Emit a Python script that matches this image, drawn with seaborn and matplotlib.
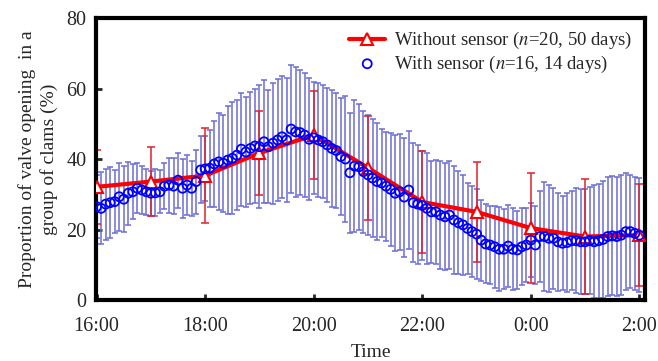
import matplotlib
matplotlib.use("Agg")
import matplotlib.pyplot as plt
import numpy as np
import pandas as pd
import seaborn as sns

# Without sensor: hourly means and error (16:00 .. 2:00, hour 24 = 0:00)
red_hours = [16, 17, 18, 19, 20, 21, 22, 23, 24, 25, 26]
red_mean = [32.1, 33.6, 35.3, 41.7, 46.8, 37.5, 27.8, 25.0, 20.4, 18.0, 18.4]
red_err = [10.5, 9.8, 13.5, 12.0, 12.5, 14.7, 14.6, 14.1, 15.6, 16.2, 14.4]

# With sensor: 5-min samples from 16:00 to 2:00
blue_mean = [
    26.5, 26.0, 27.2, 27.6, 27.9, 29.3, 28.6, 30.3, 30.7, 31.7, 31.2, 30.7,
    30.3, 30.4, 30.7, 32.3, 32.6, 32.3, 34.0, 31.7, 32.6, 31.7, 33.6, 36.9,
    37.2, 37.4, 38.6, 39.2, 38.8, 39.7, 40.2, 41.1, 42.8, 42.0, 43.0, 43.7,
    43.5, 44.9, 43.5, 44.5, 45.4, 46.3, 45.4, 48.5, 47.7, 47.5, 46.8, 45.6,
    46.0, 45.4, 44.9, 44.0, 43.0, 42.4, 40.7, 40.0, 36.1, 38.0, 37.8, 36.4,
    35.5, 34.6, 33.6, 33.2, 32.3, 31.4, 30.3, 30.7, 29.2, 31.2, 27.6, 27.2,
    26.8, 26.0, 25.0, 25.0, 24.1, 23.6, 24.1, 22.7, 21.9, 21.3, 20.3, 19.4,
    18.7, 17.0, 15.9, 15.6, 15.1, 14.4, 14.4, 15.3, 14.4, 14.2, 15.1, 15.6,
    17.0, 15.6, 18.0, 18.0, 17.5, 17.5, 16.5, 16.1, 16.3, 16.8, 16.8, 16.5,
    16.5, 16.8, 16.5, 16.8, 17.2, 18.0, 18.2, 18.0, 18.4, 19.4, 19.4, 18.9,
    18.4,
]
blue_err = [
    9.0, 10.2, 10.1, 10.1, 9.0, 9.7, 9.3, 8.9, 7.8, 7.1, 6.8, 6.6,
    6.4, 6.7, 6.1, 6.6, 7.8, 8.0, 7.8, 8.4, 8.5, 7.8, 9.1, 9.5,
    9.2, 10.9, 12.3, 13.8, 13.8, 15.4, 15.9, 15.7, 16.0, 15.7, 15.9, 16.1,
    17.5, 17.5, 16.1, 17.2, 17.2, 17.3, 17.6, 18.1, 18.5, 17.8, 17.5, 17.3,
    15.8, 16.3, 16.1, 16.1, 16.5, 16.2, 16.5, 17.9, 17.0, 18.7, 17.9, 17.3,
    17.0, 16.8, 16.7, 15.4, 15.5, 16.1, 16.4, 16.4, 16.9, 16.8, 16.9, 16.9,
    15.4, 15.8, 14.5, 14.7, 15.4, 15.2, 15.4, 15.4, 14.6, 14.1, 12.8, 12.9,
    12.8, 11.5, 11.2, 11.2, 11.6, 11.9, 11.3, 11.6, 11.7, 11.0, 10.9, 10.6,
    10.6, 11.2, 13.0, 15.4, 15.1, 14.4, 14.0, 13.3, 14.0, 14.0, 14.9, 14.9,
    14.9, 15.2, 16.0, 16.2, 16.6, 17.0, 16.9, 17.0, 17.0, 16.5, 16.1, 16.1,
    16.1,
]
blue_hours = 16 + np.arange(len(blue_mean)) * 5 / 60

tick_hours = [16, 18, 20, 22, 24, 26]
tick_labels = ["16:00", "18:00", "20:00", "22:00", "0:00", "2:00"]

red_df = pd.DataFrame({"hour": red_hours, "value": red_mean})
blue_df = pd.DataFrame({"hour": blue_hours, "value": blue_mean})

sns.set_theme(style="ticks")
plt.rcParams["font.family"] = ["Liberation Serif", "DejaVu Serif"]
plt.rcParams["mathtext.fontset"] = "stix"

fig = plt.figure(figsize=(6.58, 3.61), dpi=100)
ax = fig.add_axes([0.146, 0.169, 0.834, 0.781])

blue_c = "#0000ff"
ax.errorbar(blue_hours, blue_mean, yerr=blue_err, fmt="none",
            ecolor="#6c6cd6", elinewidth=1.1, capsize=2.4, capthick=1.1, zorder=1)
ax.errorbar(red_hours, red_mean, yerr=red_err, fmt="none",
            ecolor="#e0202a", elinewidth=1.1, capsize=2.6, capthick=1.1, zorder=2)

sns.lineplot(data=red_df, x="hour", y="value", ax=ax, color="#ff0000", lw=3,
             marker="^", markersize=8, markerfacecolor="white",
             markeredgecolor="#ff0000", markeredgewidth=1.5, zorder=3,
             label="Without sensor ($n$=20, 50 days)")
sns.scatterplot(data=blue_df, x="hour", y="value", ax=ax, marker="o", s=42,
                facecolor="none", edgecolor=blue_c, linewidth=1.3, zorder=4,
                label="With sensor ($n$=16, 14 days)")

ax.set_xlim(15.99, 26.1)
ax.set_ylim(0, 80)
ax.set_xticks(tick_hours)
ax.set_xticklabels(tick_labels)
ax.set_yticks([0, 20, 40, 60, 80])
ax.tick_params(direction="in", length=4, width=2, labelsize=14.5)
ax.tick_params(axis="x", pad=12)
ax.tick_params(axis="y", pad=7)
for s in ax.spines.values():
    s.set_linewidth(3)
    s.set_color("black")

ax.set_xlabel("Time", fontsize=14, labelpad=6)
ax.set_ylabel("Proportion of valve opening  in a\ngroup of clams (%)", fontsize=14,
              labelpad=6, linespacing=1.3)

leg = ax.legend(loc="upper right", frameon=False, fontsize=13.5, handlelength=1.9,
                borderaxespad=0.25, handletextpad=0.5, labelspacing=0.12)

fig.savefig("out.png", dpi=100)
